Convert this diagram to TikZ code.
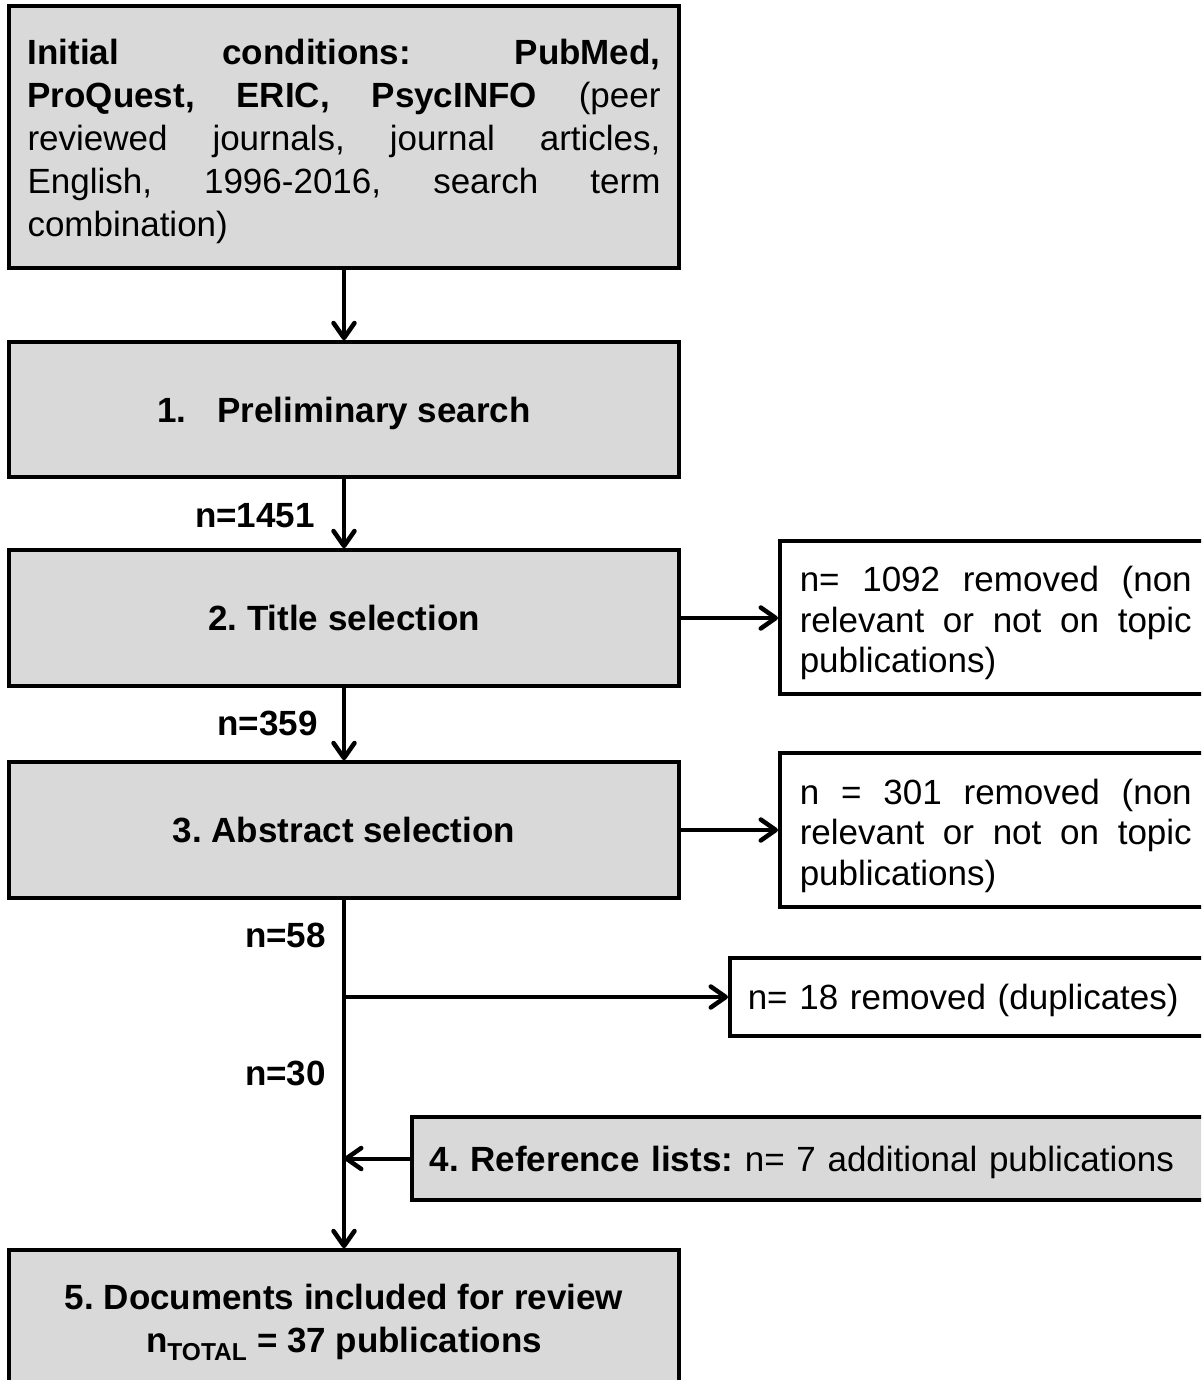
\documentclass[tikz,border=0pt]{standalone}
\usepackage{fontspec}
\setmainfont{Liberation Sans}
\usetikzlibrary{arrows.meta}
\definecolor{boxgray}{RGB}{217,217,217}
\begin{document}
\frenchspacing
\begin{tikzpicture}[x=1pt,y=-1pt,
  box/.style={draw=black,line width=3.5pt,fill=boxgray,inner sep=0pt,font=\fontsize{35}{43}\selectfont},
  lowtext/.style={text depth=-3pt},
  wbox/.style={box,fill=white,font=\fontsize{35}{40.5}\selectfont},
  conn/.style={line width=4pt,-{Straight Barb[length=15pt,width=21pt,line width=4.5pt,round]}},
  lab/.style={font=\fontsize{35}{43}\selectfont\bfseries,anchor=east,inner sep=0pt}]
\clip (0,0) rectangle (1201,1380);
\fill[white] (0,0) rectangle (1201,1380);
\node[box,minimum width=670pt,minimum height=262pt,text width=633pt,align=justify] (b0) at (344,137)
  {\rule{0pt}{33.5pt}\textbf{Initial conditions: PubMed,}\linebreak \textbf{ProQuest, ERIC, PsycINFO} (peer\linebreak reviewed journals, journal articles,\linebreak English, 1996-2016, search term\linebreak combination)};
\node[box,lowtext,minimum width=670pt,minimum height=135pt] (b1) at (344,409.5) {\textbf{1.\hspace{31pt}Preliminary search}};
\node[box,lowtext,minimum width=670pt,minimum height=136pt] (b2) at (344,618) {\textbf{2. Title selection}};
\node[box,lowtext,minimum width=670pt,minimum height=136pt] (b3) at (344,830) {\textbf{3. Abstract selection}};
\node[box,lowtext,minimum width=670pt,minimum height=136pt,align=center] (b5) at (344,1318)
  {\textbf{5. Documents included for review}\\ \textbf{n\textsubscript{TOTAL} = 37 publications}};
\node[wbox,anchor=west,minimum width=432pt,minimum height=153pt,text width=392pt,align=justify] (r1) at (778,617.5)
  {\rule{0pt}{37pt}n= 1092 removed (non\linebreak relevant or not on topic\linebreak publications)};
\node[wbox,anchor=west,minimum width=432pt,minimum height=154pt,text width=392pt,align=justify] (r2) at (778,830)
  {\rule{0pt}{37pt}n = 301 removed (non\linebreak relevant or not on topic\linebreak publications)};
\node[wbox,lowtext,anchor=west,minimum width=490pt,minimum height=78pt,text width=454pt,align=left] (r3) at (728,997)
  {n= 18 removed (duplicates)};
\node[box,lowtext,anchor=west,minimum width=810pt,minimum height=83pt,text width=774pt,align=left] (b4) at (410,1158.5)
  {\textbf{4. Reference lists:} n= 7 additional publications};
\draw[conn] (b0.south) -- (b1.north);
\draw[conn] (b1.south) -- (b2.north);
\draw[conn] (b2.south) -- (b3.north);
\draw[conn] (b3.south) -- (b5.north);
\draw[conn] (b2.east) -- (b2.east -| r1.west);
\draw[conn] (b3.east) -- (b3.east -| r2.west);
\coordinate (j1) at (b3.south |- r3.west);
\draw[conn] (j1) -- (r3.west);
\draw[conn] (b4.west) -- (b4.west -| b3.south);
\node[lab] (l1) at (315,516) {n=1451};
\node[lab] (l2) at (318,723) {n=359};
\node[lab] (l3) at (326,935) {n=58};
\node[lab] (l4) at (326,1073) {n=30};
\end{tikzpicture}
\end{document}
